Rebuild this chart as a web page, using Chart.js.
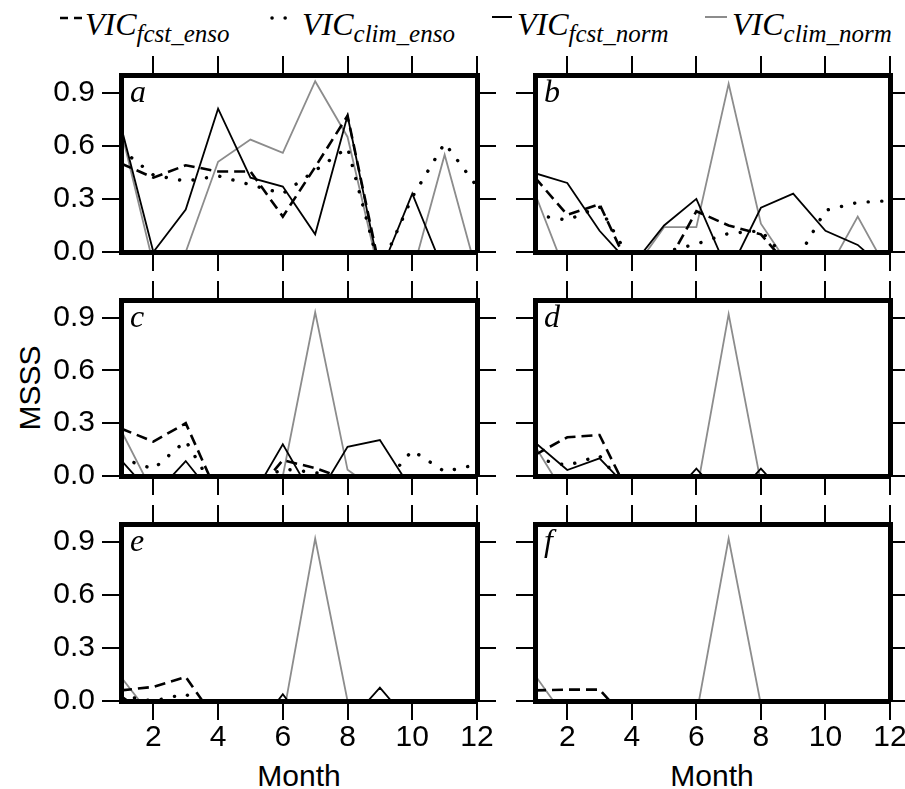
<!DOCTYPE html>
<html>
<head>
<meta charset="utf-8">
<script src="https://cdn.jsdelivr.net/npm/chart.js@4.4.0/dist/chart.umd.min.js"></script>
<style>
    body { margin: 0; background: #fff; }
    #wrap { position: relative; width: 905px; height: 789px; overflow: hidden; background: #fff; }
    #wrap canvas { position: absolute; left: 0; top: 0; }
    .leg { position: absolute; top: 8px; font: italic 32px "Liberation Serif", "Times New Roman", serif; line-height: 32px; white-space: nowrap; color: #000; }
    .leg span { font-size: 25px; position: relative; top: 7px; }
    .lab { position: absolute; font: 30px "Liberation Sans", Arial, sans-serif; line-height: 30px; text-align: center; width: 200px; color: #000; }
</style>
</head>
<body>
<div id="wrap">
    <svg id="legendKeys" width="905" height="50" style="position:absolute;left:0;top:0">
        <line x1="60" y1="18" x2="82" y2="18" stroke="#000" stroke-width="2.5" stroke-dasharray="8 6"></line>
        <line x1="272" y1="18" x2="286" y2="18" stroke="#000" stroke-width="3.5" stroke-dasharray="0.1 13" stroke-linecap="round"></line>
        <line x1="492" y1="17" x2="512" y2="17" stroke="#000" stroke-width="2"></line>
        <line x1="705" y1="17" x2="727" y2="17" stroke="#8c8c8c" stroke-width="2"></line>
    </svg>
    <div class="leg" style="left:85px">VIC<span>fcst_enso</span></div>
    <div class="leg" style="left:302px">VIC<span>clim_enso</span></div>
    <div class="leg" style="left:517px">VIC<span>fcst_norm</span></div>
    <div class="leg" style="left:732px">VIC<span>clim_norm</span></div>
    <div class="lab" style="left:-70px;top:373px;transform:rotate(-90deg)">MSSS</div>
    <div class="lab" style="left:199px;top:761px">Month</div>
    <div class="lab" style="left:612px;top:761px">Month</div>
</div>
<script>
//Werte (MSSS, unter 0 wird abgeschnitten)
const months = [1, 2, 3, 4, 5, 6, 7, 8, 9, 10, 11, 12]
const monthTicks = [2, 4, 6, 8, 10, 12]
const msssTicks = [0.0, 0.3, 0.6, 0.9]
const panelLetters = ['a', 'b', 'c', 'd', 'e', 'f']

//Panel a
const fcstEnsoA = [0.50, 0.42, 0.49, 0.455, 0.455, 0.20, 0.48, 0.77, -0.10, -0.10, -0.10, -0.10]
const climEnsoA = [0.58, 0.435, 0.40, 0.43, 0.38, 0.33, 0.46, 0.59, -0.10, 0.31, 0.615, 0.37]
const fcstNormA = [0.71, 0.00, 0.24, 0.81, 0.42, 0.37, 0.10, 0.77, -0.12, 0.33, -0.12, -0.10]
const climNormA = [0.69, -0.07, 0.00, 0.51, 0.635, 0.56, 0.965, 0.65, -0.14, -0.12, 0.55, -0.12]
//Panel b
const fcstEnsoB = [0.42, 0.21, 0.27, -0.12, -0.10, 0.23, 0.15, 0.10, -0.11, -0.10, -0.10, -0.10]
const climEnsoB = [0.21, 0.18, 0.255, -0.06, 0.00, 0.045, 0.105, 0.12, -0.08, 0.235, 0.28, 0.29]
const fcstNormB = [0.445, 0.39, 0.12, -0.08, 0.15, 0.30, -0.12, 0.25, 0.33, 0.12, 0.04, -0.12]
const climNormB = [0.33, -0.14, -0.20, -0.115, 0.14, 0.14, 0.95, 0.16, -0.11, -0.13, 0.20, -0.13]
//Panel c
const fcstEnsoC = [0.27, 0.195, 0.30, -0.11, -0.13, 0.09, 0.045, -0.02, -0.10, -0.10, -0.10, -0.10]
const climEnsoC = [0.10, 0.04, 0.20, -0.11, -0.05, 0.04, 0.02, -0.03, -0.07, 0.145, 0.025, 0.065]
const fcstNormC = [0.09, -0.115, 0.085, -0.145, -0.136, 0.18, -0.14, 0.166, 0.204, -0.083, -0.10, -0.10]
const climNormC = [0.26, -0.10, -0.10, -0.10, -0.10, 0.00, 0.93, 0.035, -0.095, -0.10, -0.10, -0.10]
//Panel d
const fcstEnsoD = [0.12, 0.22, 0.233, -0.137, -0.10, -0.10, -0.10, -0.10, -0.10, -0.10, -0.10, -0.10]
const climEnsoD = [0.10, 0.06, 0.115, -0.115, -0.10, -0.10, -0.10, -0.10, -0.10, -0.10, -0.10, -0.10]
const fcstNormD = [0.19, 0.034, 0.10, -0.09, -0.16, 0.042, -0.16, 0.042, -0.16, -0.10, -0.10, -0.10]
const climNormD = [0.17, -0.128, -0.10, -0.10, -0.10, -0.10, 0.92, -0.04, -0.10, -0.10, -0.10, -0.10]
//Panel e
const fcstEnsoE = [0.06, 0.08, 0.136, -0.125, -0.10, -0.10, -0.10, -0.10, -0.10, -0.10, -0.10, -0.10]
const climEnsoE = [0.03, 0.00, 0.04, -0.10, -0.10, -0.10, -0.10, -0.10, -0.10, -0.10, -0.10, -0.10]
const fcstNormE = [0.03, -0.10, -0.10, -0.10, -0.20, 0.038, -0.20, -0.13, 0.076, -0.14, -0.10, -0.10]
const climNormE = [0.136, -0.10, -0.10, -0.10, -0.10, -0.10, 0.917, 0.00, -0.10, -0.10, -0.10, -0.10]
//Panel f
const fcstEnsoF = [0.06, 0.064, 0.064, -0.136, -0.10, -0.10, -0.10, -0.10, -0.10, -0.10, -0.10, -0.10]
const climEnsoF = [-0.10, -0.10, -0.10, -0.10, -0.10, -0.10, -0.10, -0.10, -0.10, -0.10, -0.10, -0.10]
const fcstNormF = [-0.10, -0.10, -0.10, -0.10, -0.10, -0.10, -0.10, -0.10, -0.10, -0.10, -0.10, -0.10]
const climNormF = [0.146, -0.11, -0.10, -0.10, -0.10, -0.08, 0.917, -0.02, -0.10, -0.10, -0.10, -0.10]

const panelSeries = [
    [fcstEnsoA, climEnsoA, fcstNormA, climNormA],
    [fcstEnsoB, climEnsoB, fcstNormB, climNormB],
    [fcstEnsoC, climEnsoC, fcstNormC, climNormC],
    [fcstEnsoD, climEnsoD, fcstNormD, climNormD],
    [fcstEnsoE, climEnsoE, fcstNormE, climNormE],
    [fcstEnsoF, climEnsoF, fcstNormF, climNormF]
]

//Plotflaechen: links, oben, rechts, unten
const panelBoxes = [
    [121, 75, 477, 252], [535, 75, 890, 252],
    [121, 300, 477, 476], [535, 300, 890, 476],
    [121, 524, 477, 701], [535, 524, 890, 701]
]

//Linienstile in Reihenfolge der Serien
const lineStyles = [
    { borderColor: '#000', borderWidth: 2.6, borderDash: [11, 6] },
    { borderColor: '#000', borderWidth: 3.4, borderDash: [0.1, 13.5], borderCapStyle: 'round' },
    { borderColor: '#000', borderWidth: 1.8 },
    { borderColor: '#8c8c8c', borderWidth: 1.8 }
]

//size = Breite bzw. Hoehe der Achse (Platz fuer die Beschriftung)
function axis(pos, tickVals, min, max, showLabels, size, fmt) {
    const vertical = pos == 'left' || pos == 'right'
    return {
        type: 'linear',
        position: pos,
        min: min,
        max: max,
        afterBuildTicks: function (s) {
            s.ticks = tickVals.map(v => ({ value: v }))
        },
        afterFit: function (s) {
            if (vertical) { s.width = size } else { s.height = size }
            s.paddingLeft = 0; s.paddingRight = 0; s.paddingTop = 0; s.paddingBottom = 0
        },
        grid: { drawOnChartArea: false, drawTicks: true, tickLength: 19, lineWidth: 2, color: '#000' },
        border: { display: true, width: 5, color: '#000', z: 1 },
        ticks: {
            display: showLabels,
            color: '#000',
            padding: vertical ? 7 : 0,
            maxRotation: 0,
            autoSkip: false,
            font: { family: '"Liberation Sans", Arial, sans-serif', size: 30 },
            callback: fmt || (v => v)
        }
    }
}

function createPanel(idx) {
    const box = panelBoxes[idx]
    const leftCol = idx % 2 == 0
    const bottomRow = idx >= 4
    let canvas = document.createElement('canvas')
    canvas.width = 905
    canvas.height = 789
    document.getElementById('wrap').appendChild(canvas)

    const datasets = panelSeries[idx].map((vals, k) => Object.assign({
        data: months.map((m, i) => ({ x: m, y: vals[i] })),
        pointRadius: 0,
        tension: 0,
        fill: false,
        clip: 0
    }, lineStyles[k]))

    const letter = panelLetters[idx]
    new Chart(canvas, {
        type: 'line',
        data: { datasets: datasets },
        options: {
            responsive: false,
            animation: false,
            devicePixelRatio: 1,
            events: [],
            layout: {
                autoPadding: false,
                padding: { left: 0, top: box[1], right: 905 - box[2], bottom: 0 }
            },
            plugins: { legend: { display: false }, tooltip: { enabled: false } },
            scales: {
                x: axis('bottom', monthTicks, 1, 12, bottomRow, 789 - box[3], v => String(v)),
                xTop: axis('top', monthTicks, 1, 12, false, 0),
                y: axis('left', msssTicks, 0, 1, leftCol, box[0], v => v.toFixed(1)),
                yRight: axis('right', msssTicks, 0, 1, false, 0)
            }
        },
        plugins: [{
            id: 'panelLetter',
            afterDraw(chart) {
                const ctx = chart.ctx
                const a = chart.chartArea
                ctx.save()
                ctx.font = 'italic 32px "Liberation Serif"'
                ctx.fillStyle = '#000'
                ctx.fillText(letter, a.left + 9, a.top + 27)
                ctx.restore()
            }
        }]
    })
}

for (let i = 0; i < panelBoxes.length; i++) {
    createPanel(i)
}
</script>
</body>
</html>
